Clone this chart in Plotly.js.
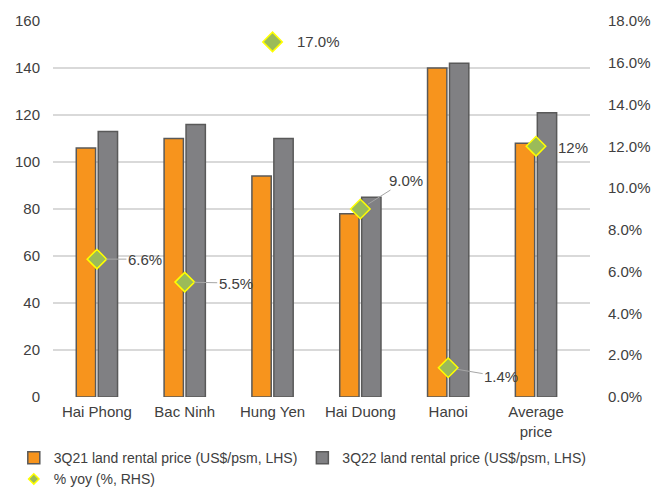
<!DOCTYPE html>
<html><head><meta charset="utf-8">
<script src="https://cdn.plot.ly/plotly-3.0.1.min.js"></script>
<style>html,body{margin:0;padding:0;background:#fff}#chart{width:654px;height:487px}</style>
</head><body><div id="chart"></div>
<script>
const categories = ["Hai Phong", "Bac Ninh", "Hung Yen", "Hai Duong", "Hanoi", "Average<br>price"];
const price3Q21 = [106, 110, 94, 78, 140, 108];
const price3Q22 = [113, 116, 110, 85, 142, 121];
const yoy = [6.6, 5.5, 17.0, 9.0, 1.4, 12];
const yoyLabels = ["6.6%", "5.5%", "17.0%", "9.0%", "1.4%", "12%"];
const seriesNames = ["3Q21 land rental price (US$/psm, LHS)", "3Q22 land rental price (US$/psm, LHS)", "% yoy (%, RHS)"];
const yTicks = [0, 20, 40, 60, 80, 100, 120, 140, 160];
const y2Ticks = [0, 2, 4, 6, 8, 10, 12, 14, 16, 18];
const y2TickText = ["0.0%", "2.0%", "4.0%", "6.0%", "8.0%", "10.0%", "12.0%", "14.0%", "16.0%", "18.0%"];

const txt = '#404040';
const font = {family: 'Liberation Sans, Arial, sans-serif', size: 15, color: txt};

const diamondMarker = {symbol: 'diamond', size: 15, color: '#9BBB59', line: {color: '#FFFF00', width: 1.5}};
const traces = [
  {type: 'bar', name: seriesNames[0], x: categories, y: price3Q21,
   marker: {color: '#F7941D', line: {color: '#595959', width: 1.5}}},
  {type: 'bar', name: seriesNames[1], x: categories, y: price3Q22,
   marker: {color: '#808083', line: {color: '#595959', width: 1.5}}},
  {type: 'scatter', mode: 'markers', name: seriesNames[2], x: categories, y: yoy, yaxis: 'y2',
   marker: diamondMarker, showlegend: false},
  // legend entry only (smaller symbol, as in the reference legend)
  {type: 'scatter', mode: 'markers', name: seriesNames[2], x: [null], y: [null], yaxis: 'y2',
   marker: {symbol: 'diamond', size: 8, color: '#9BBB59', line: {color: '#FFFF00', width: 1.5}}}
];

const labelStyle = [
  {ax: 48, ay: 0, line: true},
  {ax: 51, ay: 1, line: true},
  {ax: 46, ay: 0, line: false},
  {ax: 46, ay: -29, line: true},
  {ax: 53, ay: 9, line: true},
  {ax: 37, ay: 1, line: false}
];
const annotations = categories.map((c, i) => {
  const s = labelStyle[i];
  return {
    x: c, y: yoy[i], xref: 'x', yref: 'y2', text: yoyLabels[i],
    showarrow: true, ax: s.ax, ay: s.ay, axref: 'pixel', ayref: 'pixel',
    arrowhead: 0, arrowwidth: 1, standoff: 9,
    arrowcolor: s.line ? '#A6A6A6' : 'rgba(0,0,0,0)',
    font: font
  };
});

const layout = {
  width: 654, height: 487,
  margin: {l: 53, r: 64, t: 21, b: 90, autoexpand: false},
  paper_bgcolor: '#fff', plot_bgcolor: '#fff',
  font: font,
  barmode: 'group', bargap: 0.5, bargroupgap: 0.12,
  showlegend: true,
  legend: {orientation: 'h', x: -0.073, xanchor: 'left', y: -0.12, yanchor: 'top',
           font: {family: font.family, size: 14, color: txt}, itemwidth: 30,
           tracegroupgap: 0, traceorder: 'normal'},
  xaxis: {type: 'category', showgrid: false, showline: false, ticks: '', tickfont: font,
          ticklabelstandoff: 4},
  yaxis: {range: [0, 160], tickvals: yTicks, showgrid: true, gridcolor: '#D9D9D9', gridwidth: 1.5,
          zeroline: false, showline: false, ticks: '', tickfont: font, ticklabelstandoff: 12},
  yaxis2: {range: [0, 18], tickvals: y2Ticks, ticktext: y2TickText, overlaying: 'y', side: 'right',
           showgrid: false, zeroline: false, showline: false, ticks: '', tickfont: font,
           ticklabelstandoff: 17},
  annotations: annotations
};

Plotly.newPlot('chart', traces, layout, {displayModeBar: false, staticPlot: true});
</script></body></html>
